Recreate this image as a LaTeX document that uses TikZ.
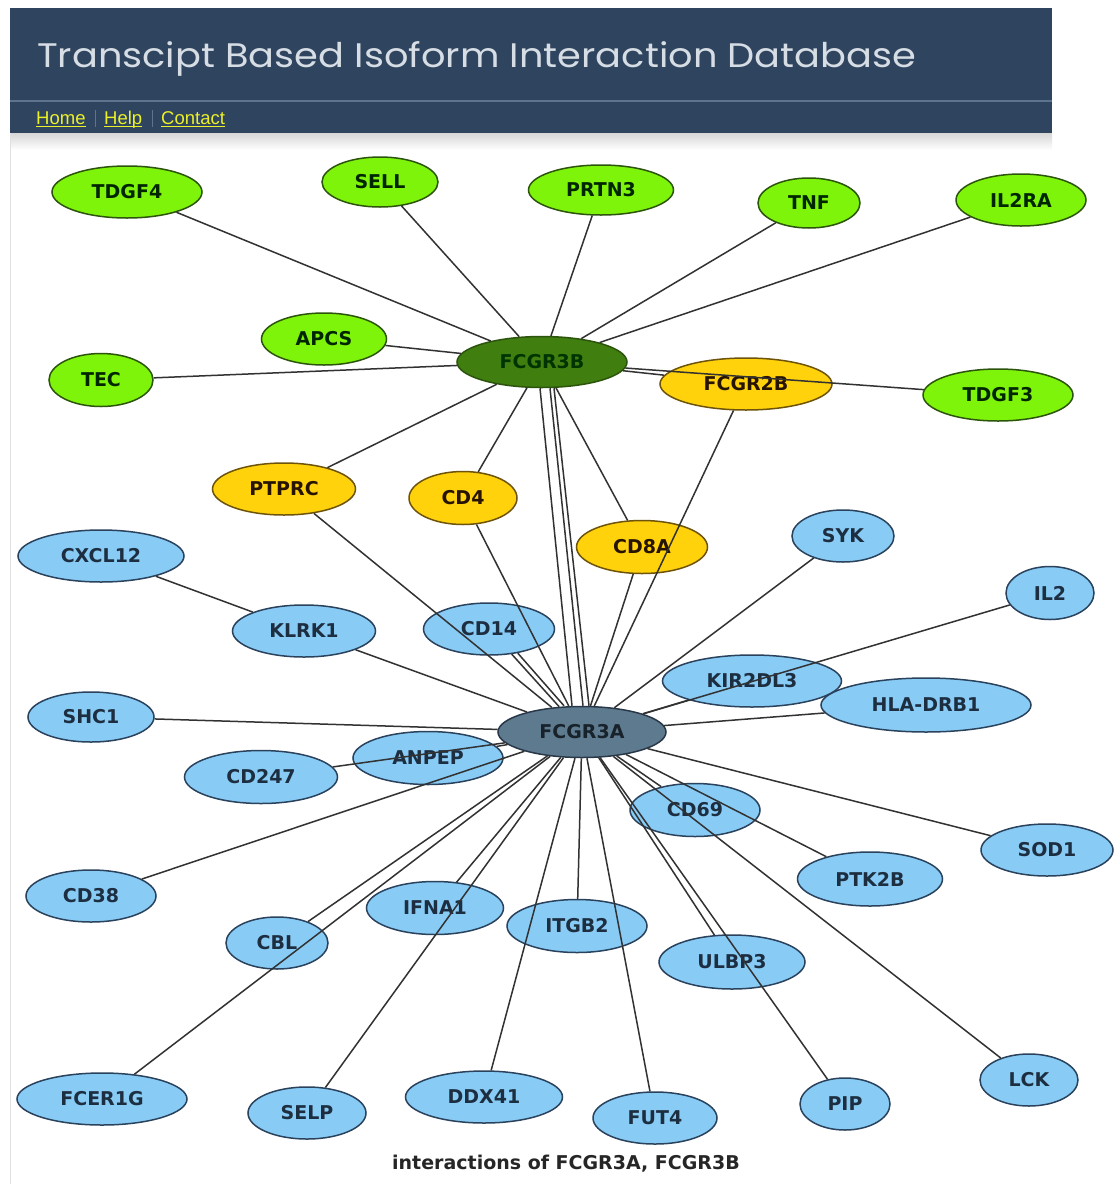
\documentclass[tikz,border=0pt]{standalone}
\usepackage{fontspec}
\setmainfont{DejaVu Sans}
\newfontfamily\titlefont{Poppins}
\newfontfamily\navfont{Liberation Sans}
\usetikzlibrary{shapes.geometric}

\definecolor{headbg}{RGB}{47,68,95}
\definecolor{headline}{RGB}{92,116,142}
\definecolor{titletext}{RGB}{214,221,228}
\definecolor{navyellow}{RGB}{236,240,40}
\definecolor{lawn}{RGB}{126,244,10}
\definecolor{lawnedge}{RGB}{44,84,12}
\definecolor{hubgreen}{RGB}{64,126,16}
\definecolor{gold}{RGB}{255,210,12}
\definecolor{goldedge}{RGB}{110,84,10}
\definecolor{sky}{RGB}{136,204,246}
\definecolor{skyedge}{RGB}{42,66,92}
\definecolor{slate}{RGB}{94,122,142}
\definecolor{slateedge}{RGB}{40,56,72}
\definecolor{edgecol}{RGB}{50,50,50}

\tikzset{
  gene/.style={ellipse, inner sep=0pt, line width=1.5pt,
    font=\bfseries\fontsize{19}{22}\selectfont},
  sz/.style 2 args={minimum width=#1pt, minimum height=#2pt},
  gnode/.style={gene, draw=lawnedge, fill=lawn, text=black!85!green},
  hubb/.style={gene, draw=lawnedge, fill=hubgreen, text=black!80!green},
  ynode/.style={gene, draw=goldedge, fill=gold, text=black!85!orange},
  bnode/.style={gene, draw=skyedge, fill=sky, text=skyedge!70!black},
  huba/.style={gene, draw=slateedge, fill=slate, text=slateedge!60!black},
  link/.style={draw=edgecol, line width=1.5pt},
  navlink/.style={anchor=base west, inner sep=0pt, text=navyellow,
    font=\navfont\fontsize{18.5}{20}\selectfont}
}

\begin{document}
\begin{tikzpicture}[x=1pt,y=-1pt]
\useasboundingbox (0,0) rectangle (1115,1184);
\fill[white] (0,0) rectangle (1115,1184);

% page header
\fill[headbg] (10,8) rectangle (1052,133);
\draw[headline, line width=1.5pt] (10,101) -- (1052,101);
\shade[top color=black!16, bottom color=white] (10,133) rectangle (1052,150);
\draw[black!12, line width=0.8pt] (10,133) -- (10,1184);
\node[anchor=base west, inner sep=0pt, text=titletext] (title) at (37,67)
  {\resizebox{879pt}{26pt}{\titlefont Transcipt Based Isoform Interaction Database}};

% navigation links
\node[navlink] (home) at (36,124) {Home};
\node[navlink] (help) at (104,124) {Help};
\node[navlink] (contact) at (161,124) {Contact};
\foreach \l in {home,help,contact}
  \draw[navyellow, line width=0.9pt] (\l.base west) ++(0,2.5) -- ([yshift=-2.5pt]\l.base east);
\draw[headline, line width=0.8pt] (95,110) -- (95,127);
\draw[headline, line width=0.8pt] (152,110) -- (152,127);

% FCGR3B neighbourhood
\node[gnode, sz={150}{52}] (TDGF4) at (127,192) {TDGF4};
\node[gnode, sz={116}{50}] (SELL) at (380,182) {SELL};
\node[gnode, sz={145}{50}] (PRTN3) at (601,190) {PRTN3};
\node[gnode, sz={102}{50}] (TNF) at (809,203) {TNF};
\node[gnode, sz={130}{52}] (IL2RA) at (1021,200) {IL2RA};
\node[gnode, sz={125}{52}] (APCS) at (324,339) {APCS};
\node[gnode, sz={104}{53}] (TEC) at (101,380) {TEC};
\node[gnode, sz={150}{52}] (TDGF3) at (998,395) {TDGF3};
\node[hubb, sz={170}{51}] (FCGR3B) at (542,362) {FCGR3B};

\node[ynode, sz={172}{52}] (FCGR2B) at (746,384) {FCGR2B};
\node[ynode, sz={143}{52}] (PTPRC) at (284,489) {PTPRC};
\node[ynode, sz={108}{53}] (CD4) at (463,498) {CD4};
\node[ynode, sz={131}{53}] (CD8A) at (642,547) {CD8A};

% FCGR3A neighbourhood
\node[bnode, sz={166}{52}] (CXCL12) at (101,556) {CXCL12};
\node[bnode, sz={143}{52}] (KLRK1) at (304,631) {KLRK1};
\node[bnode, sz={131}{52}] (CD14) at (489,629) {CD14};
\node[bnode, sz={102}{52}] (SYK) at (843,536) {SYK};
\node[bnode, sz={88}{53}] (IL2) at (1050,593) {IL2};
\node[bnode, sz={179}{52}] (KIR2DL3) at (752,681) {KIR2DL3};
\node[bnode, sz={210}{54}] (HLA) at (926,705) {HLA-DRB1};
\node[bnode, sz={126}{50}] (SHC1) at (91,717) {SHC1};
\node[huba, sz={168}{51}] (FCGR3A) at (582,732) {FCGR3A};
\node[bnode, sz={150}{53}] (ANPEP) at (428,758) {ANPEP};
\node[bnode, sz={153}{53}] (CD247) at (261,777) {CD247};
\node[bnode, sz={130}{53}] (CD69) at (695,810) {CD69};
\node[bnode, sz={132}{52}] (SOD1) at (1047,850) {SOD1};
\node[bnode, sz={145}{54}] (PTK2B) at (870,879) {PTK2B};
\node[bnode, sz={130}{52}] (CD38) at (91,896) {CD38};
\node[bnode, sz={102}{52}] (CBL) at (277,943) {CBL};
\node[bnode, sz={137}{53}] (IFNA1) at (435,908) {IFNA1};
\node[bnode, sz={140}{53}] (ITGB2) at (577,926) {ITGB2};
\node[bnode, sz={146}{54}] (ULBP3) at (732,962) {ULBP3};
\node[bnode, sz={170}{52}] (FCER1G) at (102,1099) {FCER1G};
\node[bnode, sz={118}{52}] (SELP) at (307,1113) {SELP};
\node[bnode, sz={157}{52}] (DDX41) at (484,1097) {DDX41};
\node[bnode, sz={124}{52}] (FUT4) at (655,1118) {FUT4};
\node[bnode, sz={90}{52}] (PIP) at (845,1104) {PIP};
\node[bnode, sz={98}{52}] (LCK) at (1029,1080) {LCK};

% interactions, drawn over the nodes they cross
\foreach \n in {TDGF4,SELL,PRTN3,TNF,IL2RA,APCS,TEC,TDGF3,FCGR2B,PTPRC,CD4,CD8A}
  \draw[link] (FCGR3B) -- (\n);
\draw[link] ([xshift=-2pt]FCGR3B.south) -- ([xshift=-10pt]FCGR3A.north);
\draw[link] ([xshift=8pt]FCGR3B.south) -- ([xshift=1pt]FCGR3A.north);
\draw[link] ([xshift=12pt]FCGR3B.south) -- ([xshift=7pt]FCGR3A.north);

\foreach \n in {KLRK1,PTPRC,CD4,CD14,CD8A,FCGR2B,SYK,IL2,KIR2DL3,HLA,SHC1,
  ANPEP,CD247,CD38,CD69,SOD1,PTK2B,LCK,CBL,FCER1G,IFNA1,SELP,ITGB2,DDX41,
  FUT4,ULBP3,PIP}
  \draw[link] (FCGR3A) -- (\n);
\draw[link] (CD14.-40) -- ([xshift=-18pt]FCGR3A.north);
\draw[link] (CXCL12) -- (KLRK1);

% caption
\node[font=\bfseries\fontsize{19}{22}\selectfont, text=black!85] (caption) at (566,1164)
  {interactions of FCGR3A, FCGR3B};
\end{tikzpicture}
\end{document}
